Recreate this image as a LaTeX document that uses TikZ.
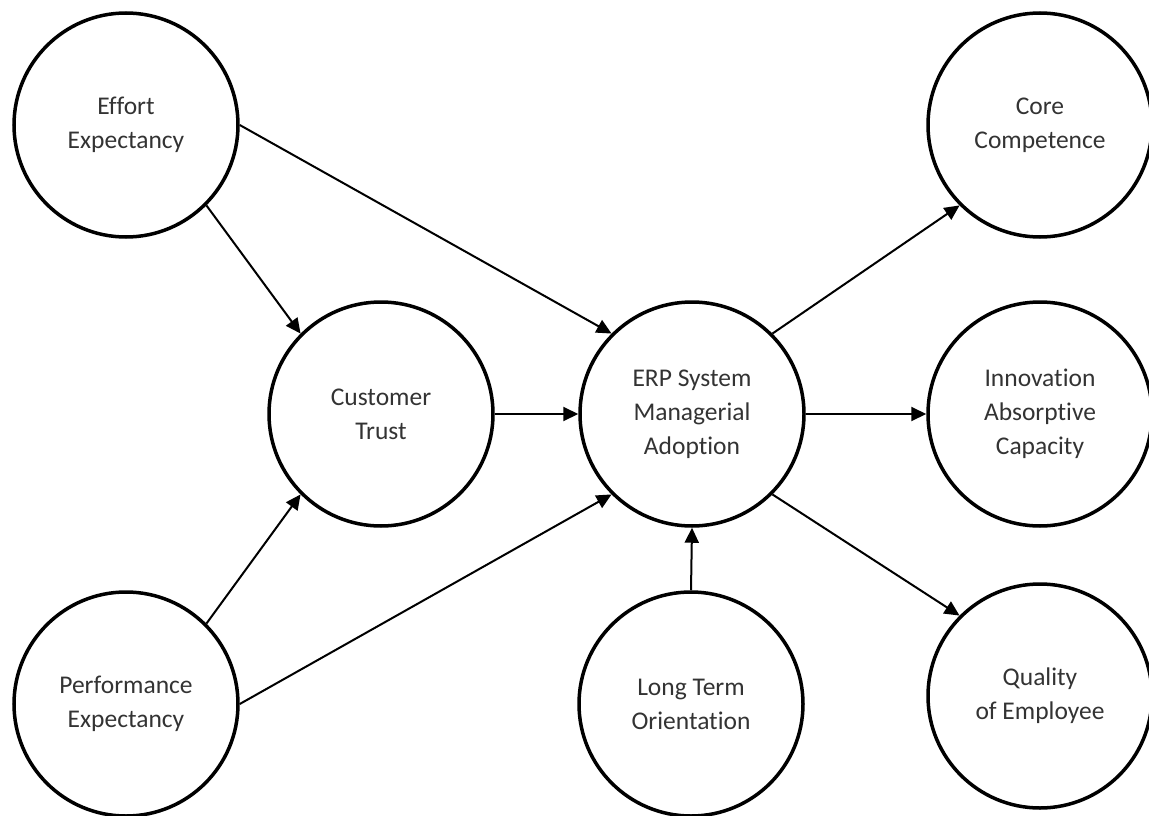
\documentclass[tikz,border=0pt]{standalone}
\usepackage{fontspec}
\setmainfont{Carlito}[RawFeature=-liga]
\usetikzlibrary{arrows.meta}
\begin{document}
\begin{tikzpicture}[x=1pt,y=-1pt,
  construct/.style={circle, draw=black, line width=3.5pt, minimum size=224pt, inner sep=0pt,
    align=center, font=\fontsize{25.5}{34}\selectfont, text=black!80},
  link/.style={line width=2pt, -{Triangle[length=15pt,width=14pt]}}]
\useasboundingbox (0,0) rectangle (1149,816);
\node[construct] (ee)  at (126,125) {Effort\\Expectancy};
\node[construct] (pe)  at (126,704) {Performance\\Expectancy};
\node[construct] (ct)  at (381,414) {Customer\\Trust};
\node[construct] (erp) at (692,414) {ERP System\\Managerial\\Adoption};
\node[construct] (lto) at (691,704) {Long Term\\Orientation};
\node[construct] (cc)  at (1040,125) {Core\\Competence};
\node[construct] (iac) at (1040,414) {Innovation\\Absorptive\\Capacity};
\node[construct] (qe)  at (1040,696) {Quality\\of Employee};
\draw[link] (ee.east) -- (erp.north west);
\draw[link] (ee.south east) -- (ct.north west);
\draw[link] (pe.north east) -- (ct.south west);
\draw[link] (pe.east) -- (erp.south west);
\draw[link] (ct.east) -- (erp.west);
\draw[link] (lto.north) -- (erp.south);
\draw[link] (erp.north east) -- (cc.south west);
\draw[link] (erp.east) -- (iac.west);
\draw[link] (erp.south east) -- (qe.north west);
\end{tikzpicture}
\end{document}
